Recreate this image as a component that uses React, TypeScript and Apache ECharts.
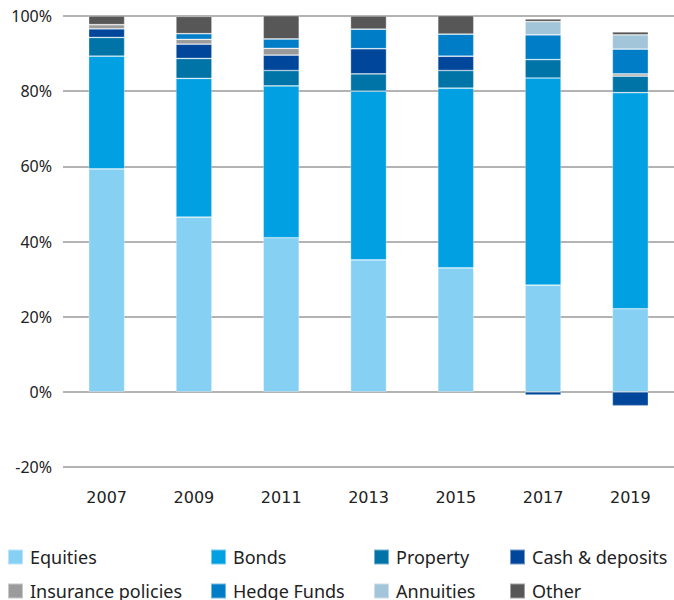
import React, { useEffect, useRef } from "react";
import * as echarts from "echarts";

const years = ["2007", "2009", "2011", "2013", "2015", "2017", "2019"];
const equities = [59.3, 46.5, 41.0, 35.1, 33.0, 28.4, 22.1];
const bonds = [30.0, 36.9, 40.4, 44.9, 47.8, 55.1, 57.5];
const property = [5.0, 5.3, 4.1, 4.6, 4.7, 4.9, 4.4];
const cashDeposits = [2.3, 3.8, 4.1, 6.7, 3.8, -0.9, -3.7];
const insurancePolicies = [1.1, 1.3, 1.8, 0, 0, 0, 0.6];
const hedgeFunds = [0, 1.5, 2.5, 5.2, 5.9, 6.6, 6.6];
const annuities = [0, 0, 0, 0, 0, 3.5, 3.8];
const other = [2.3, 4.6, 6.2, 3.5, 4.9, 0.7, 0.8];
const yTicks = [-20, 0, 20, 40, 60, 80, 100];

const seriesDefs = [
  { name: "Equities", data: equities, color: "#86d0f4" },
  { name: "Bonds", data: bonds, color: "#00a0e2" },
  { name: "Property", data: property, color: "#0074a6" },
  { name: "Cash & deposits", data: cashDeposits, color: "#00479b" },
  { name: "Insurance policies", data: insurancePolicies, color: "#9b9b9b" },
  { name: "Hedge Funds", data: hedgeFunds, color: "#007dc7" },
  { name: "Annuities", data: annuities, color: "#a2c5d9" },
  { name: "Other", data: other, color: "#575757" },
];

const legendPos = [
  { left: 7, top: 548 },
  { left: 210, top: 548 },
  { left: 373, top: 548 },
  { left: 509, top: 548 },
  { left: 7, top: 582 },
  { left: 210, top: 582 },
  { left: 373, top: 582 },
  { left: 509, top: 582 },
];

export default function App() {
  const ref = useRef<HTMLDivElement>(null);
  useEffect(() => {
    if (!ref.current) return;
    const chart = echarts.init(ref.current, null, { renderer: "svg" });
    const font = "Noto Sans";
    chart.setOption({
      animation: false,
      textStyle: { fontFamily: font },
      grid: { left: 63, right: 0, top: 16, bottom: 133 },
      legend: seriesDefs.map((s, i) => ({
        data: [s.name],
        left: legendPos[i].left,
        top: legendPos[i].top,
        icon: "rect",
        itemWidth: 15,
        itemHeight: 15,
        itemGap: 10,
        padding: 0,
        selectedMode: false,
        textStyle: { fontSize: 18, color: "#222", fontFamily: font, padding: [0, 0, 0, 2] },
      })),
      xAxis: {
        type: "category",
        data: years,
        axisLine: { show: false },
        axisTick: { show: false },
        axisLabel: { fontSize: 16, color: "#222", margin: 22, fontFamily: "DejaVu Sans" },
      },
      yAxis: {
        type: "value",
        min: yTicks[0],
        max: yTicks[yTicks.length - 1],
        interval: 20,
        axisLabel: { formatter: "{value}%", fontSize: 16, color: "#222", margin: 11, fontFamily: font },
        splitLine: { lineStyle: { color: "#b3b3b3", width: 2 } },
      },
      series: seriesDefs.map((s) => ({
        name: s.name,
        type: "bar",
        stack: "total",
        barWidth: 36,
        data: s.data,
        itemStyle: { color: s.color, borderColor: "rgba(255,255,255,0.45)", borderWidth: 0.7 },
      })),
    });
    return () => chart.dispose();
  }, []);
  return <div ref={ref} style={{ width: 674, height: 600, position: "absolute", left: 0, top: 0 }} />;
}
